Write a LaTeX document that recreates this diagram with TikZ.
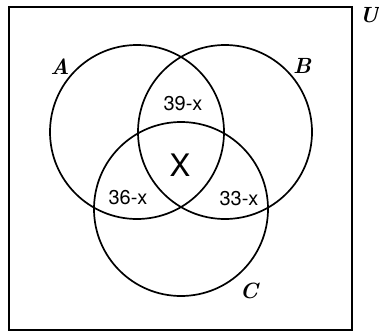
\documentclass[tikz,border=0pt]{standalone}
\usepackage{fontspec}
\newfontfamily\hv{TeX Gyre Heros}
\begin{document}
\begin{tikzpicture}[x=1pt,y=-1pt,
  setc/.style={circle,draw,line width=1.7pt,minimum size=174pt,inner sep=0pt},
  setlab/.style={font=\fontsize{22}{22}\selectfont\bfseries\itshape,inner sep=0pt},
  reglab/.style={font=\hv\fontsize{20}{20}\selectfont,inner sep=0pt}]
\useasboundingbox (0,0) rectangle (379,332);
\node[draw,line width=1.5pt,minimum width=343pt,minimum height=323pt,inner sep=0pt] (U) at (180.5,168.5) {};
\node[setc] (A) at (137,132) {};
\node[setc] (B) at (225,132) {};
\node[setc] (C) at (181,209) {};
\node[setlab] (la) at (60,67) {A};
\node[setlab] (lb) at (302,66) {B};
\node[setlab] (lc) at (249,291) {C};
\node[setlab] (lu) at (369,15) {U};
\node[reglab] (ab) at (183,104) {39-x};
\node[reglab] (ac) at (128,198) {36-x};
\node[reglab] (bc) at (239,199) {33-x};
\node[font=\hv\fontsize{31}{31}\selectfont,inner sep=0pt] (abc) at (180,165) {X};
\end{tikzpicture}
\end{document}
